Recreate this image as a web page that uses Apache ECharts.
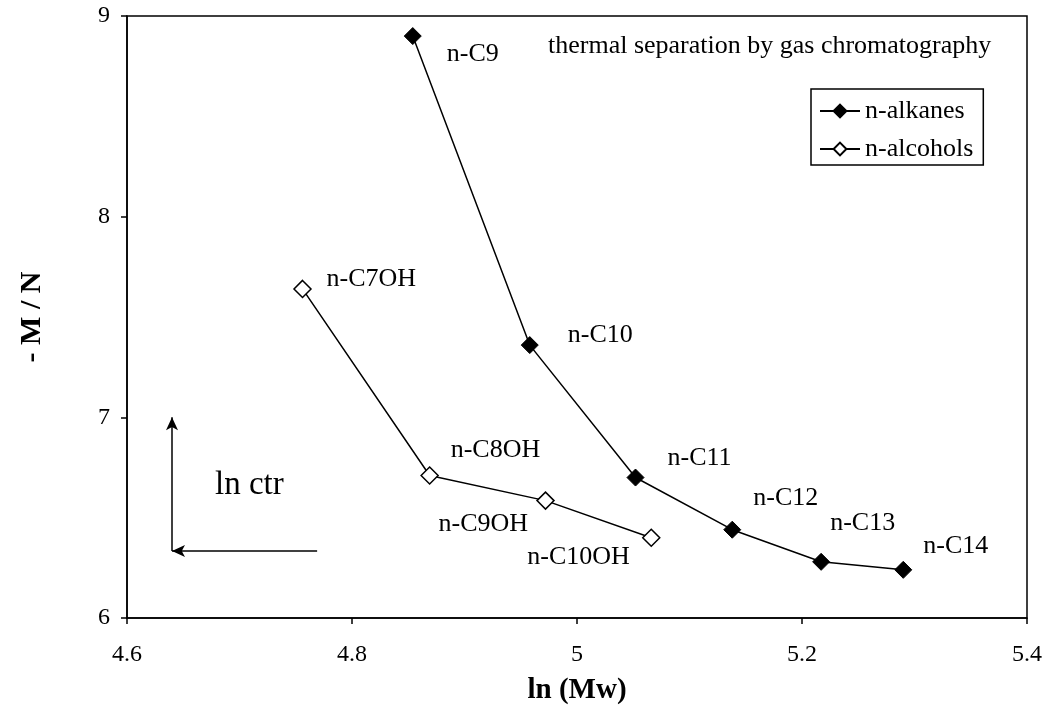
<!DOCTYPE html>
<html>
<head>
<meta charset="utf-8">
<script src="https://cdn.jsdelivr.net/npm/echarts@6/dist/echarts.min.js"></script>
<style>html,body{margin:0;padding:0;background:#fff;}#c{width:1045px;height:705px;}</style>
</head>
<body>
<div id="c"></div>
<script>
// ---- data ----
const alkaneNames = ['n-C9', 'n-C10', 'n-C11', 'n-C12', 'n-C13', 'n-C14'];
const alkaneX = [4.854, 4.958, 5.052, 5.138, 5.217, 5.290];
const alkaneY = [8.90, 7.36, 6.70, 6.44, 6.28, 6.24];
const alcoholNames = ['n-C7OH', 'n-C8OH', 'n-C9OH', 'n-C10OH'];
const alcoholX = [4.756, 4.869, 4.972, 5.066];
const alcoholY = [7.64, 6.71, 6.585, 6.40];
const xTicks = [4.6, 4.8, 5.0, 5.2, 5.4];
const yTicks = [6, 7, 8, 9];
const seriesNames = ['n-alkanes', 'n-alcohols'];
// annotation arrows (data coords)
const arrowCorner = [4.64, 6.334];
const arrowUpEnd = [4.64, 7.0];
const arrowRightEnd = [4.769, 6.334];

// ---- layout/style ----
const FONT = '"Liberation Serif", "DejaVu Serif", serif';
const alkaneLabelOffsets = [[34, 18], [38, -10], [32, -19], [21, -32], [9, -39], [20, -24]];
const alcoholLabelOffsets = [[24, -10], [21, -25], [-107, 24], [-124, 19]];

function buildData(xs, ys, names, offsets) {
  return xs.map((x, i) => ({
    value: [x, ys[i]],
    name: names[i],
    label: {
      show: true, position: 'inside', align: 'left', verticalAlign: 'middle',
      offset: offsets[i], formatter: names[i],
      fontFamily: FONT, fontSize: 26, color: '#000'
    }
  }));
}

const chart = echarts.init(document.getElementById('c'), null, {renderer: 'canvas'});
chart.setOption({
  backgroundColor: '#fff',
  animation: false,
  grid: {left: 127, right: 18, top: 16, bottom: 87, show: true, borderColor: '#000', borderWidth: 1.5,
    containLabel: false, outerBoundsMode: 'none'},
  xAxis: {
    type: 'value', min: xTicks[0], max: xTicks[xTicks.length - 1], interval: 0.2,
    name: 'ln (Mw)', nameLocation: 'middle', nameGap: 58,
    nameTextStyle: {fontFamily: FONT, fontSize: 29, fontWeight: 'bold', color: '#000'},
    axisLine: {show: true, lineStyle: {color: '#000', width: 1.5}},
    axisTick: {show: true, inside: false, length: 6, lineStyle: {color: '#000', width: 1.5}},
    axisLabel: {margin: 25, fontFamily: FONT, fontSize: 24, color: '#000',
      formatter: v => (Math.abs(v - 5) < 1e-9 ? '5' : v.toFixed(1))},
    splitLine: {show: false}
  },
  yAxis: {
    type: 'value', min: yTicks[0], max: yTicks[yTicks.length - 1], interval: 1,
    name: '- M / N', nameLocation: 'middle', nameGap: 80, nameRotate: 90,
    nameTextStyle: {fontFamily: FONT, fontSize: 30, fontWeight: 'bold', color: '#000'},
    axisLine: {show: true, lineStyle: {color: '#000', width: 1.5}},
    axisTick: {show: true, inside: false, length: 6, lineStyle: {color: '#000', width: 1.5}},
    axisLabel: {margin: 17, fontFamily: FONT, fontSize: 24, color: '#000'},
    splitLine: {show: false}
  },
  legend: {
    orient: 'vertical', left: 811, top: 89,
    data: seriesNames,
    borderColor: '#000', borderWidth: 1.5, padding: [9, 10, 3, 8],
    itemWidth: 40, itemHeight: 16, itemGap: 12,
    textStyle: {fontFamily: FONT, fontSize: 26, color: '#000'}
  },
  graphic: [
    {type: 'text', left: 548, top: 33, style: {text: 'thermal separation by gas chromatography', font: '26px ' + FONT, fill: '#000'}},
    {type: 'text', left: 215, top: 469, style: {text: 'ln ctr', font: '33px ' + FONT, fill: '#000'}}
  ],
  series: [
    {
      name: seriesNames[0], type: 'line',
      data: buildData(alkaneX, alkaneY, alkaneNames, alkaneLabelOffsets),
      symbol: 'diamond', symbolSize: 17,
      lineStyle: {color: '#000', width: 1.5},
      itemStyle: {color: '#000', borderColor: '#000', borderWidth: 1},
      emphasis: {disabled: true},
      markLine: {
        silent: true, symbol: ['none', 'arrow'], symbolSize: [9, 13],
        label: {show: false},
        lineStyle: {color: '#000', width: 1.5, type: 'solid'},
        data: [
          [{coord: arrowCorner}, {coord: arrowUpEnd}],
          [{coord: arrowRightEnd}, {coord: arrowCorner}]
        ]
      }
    },
    {
      name: seriesNames[1], type: 'line',
      data: buildData(alcoholX, alcoholY, alcoholNames, alcoholLabelOffsets),
      symbol: 'diamond', symbolSize: 17,
      lineStyle: {color: '#000', width: 1.5},
      itemStyle: {color: '#fff', borderColor: '#000', borderWidth: 1.5},
      emphasis: {disabled: true}
    }
  ]
});
</script>
</body>
</html>
